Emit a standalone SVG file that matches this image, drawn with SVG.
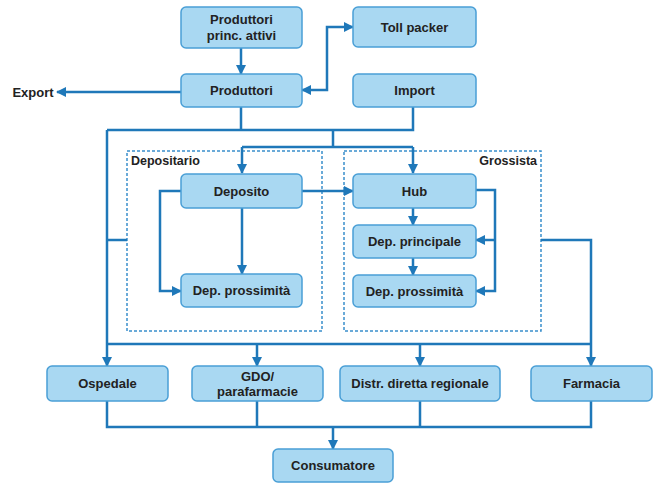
<svg xmlns="http://www.w3.org/2000/svg" width="654" height="483" viewBox="0 0 654 483">
<style>
.box{fill:#a9d8f2;stroke:#4a9fd6;stroke-width:1.5}
.t{font-family:"Liberation Sans",Arial,sans-serif;font-weight:bold;font-size:13px;fill:#222;text-anchor:middle}
.lbl{font-family:"Liberation Sans",Arial,sans-serif;font-weight:bold;font-size:12.5px;fill:#222}
.ln{fill:none;stroke:#1f78b9;stroke-width:2.5}
.dash{fill:none;stroke:#3a8fcc;stroke-width:1.5;stroke-dasharray:3,2}
</style>
<defs>
<marker id="ah" viewBox="0 0 10 10" refX="9" refY="5" markerWidth="4" markerHeight="4" orient="auto-start-reverse">
<path d="M0,0 L10,5 L0,10 z" fill="#1f78b9"/>
</marker>
</defs>
<rect width="654" height="483" fill="#fff"/>
<g id="depositario"><rect class="dash" x="127" y="151" width="195" height="180"/><text class="lbl" x="131" y="165">Depositario</text></g>
<g id="grossista"><rect class="dash" x="344" y="151" width="197" height="180"/><text class="lbl" x="537" y="165" text-anchor="end">Grossista</text></g>
<g id="connectors">
<path class="ln" d="M241,48 V74" marker-end="url(#ah)"/>
<path class="ln" d="M181,92 H57" marker-end="url(#ah)"/>
<path class="ln" d="M302,90 H327 V27 H353" marker-start="url(#ah)" marker-end="url(#ah)"/>
<path class="ln" d="M241,107 V130 M107,130 H413 V107"/>
<path class="ln" d="M333,130 V147 M242,147 H413"/>
<path class="ln" d="M242,147 V173" marker-end="url(#ah)"/>
<path class="ln" d="M413,147 V173" marker-end="url(#ah)"/>
<path class="ln" d="M242,208 V274" marker-end="url(#ah)"/>
<path class="ln" d="M181,191 H160 V291 H181" marker-end="url(#ah)"/>
<path class="ln" d="M302,191 H353" marker-end="url(#ah)"/>
<path class="ln" d="M413,208 V225" marker-end="url(#ah)"/>
<path class="ln" d="M413,258 V275" marker-end="url(#ah)"/>
<path class="ln" d="M476,190 H495 V291 H476" marker-end="url(#ah)"/>
<path class="ln" d="M495,240 H476" marker-end="url(#ah)"/>
<path class="ln" d="M107,130 V366" marker-end="url(#ah)"/>
<path class="ln" d="M107,240 H127"/>
<path class="ln" d="M541,240 H591 V366" marker-end="url(#ah)"/>
<path class="ln" d="M107,344 H591"/>
<path class="ln" d="M257,344 V366" marker-end="url(#ah)"/>
<path class="ln" d="M420,344 V366" marker-end="url(#ah)"/>
<path class="ln" d="M107,401 V427 H591 V401 M257,401 V427 M420,401 V427"/>
<path class="ln" d="M333,427 V449" marker-end="url(#ah)"/>
</g>
<g id="produttori_pa"><rect class="box" x="181" y="7" width="121" height="41" rx="5"/><text class="t" x="241.5" y="24">Produttori</text><text class="t" x="241.5" y="40">princ. attivi</text></g>
<g id="toll_packer"><rect class="box" x="353" y="7" width="123" height="40" rx="5"/><text class="t" x="414.5" y="32">Toll packer</text></g>
<g id="produttori"><rect class="box" x="181" y="74" width="121" height="33" rx="5"/><text class="t" x="241.5" y="95">Produttori</text></g>
<g id="import"><rect class="box" x="353" y="74" width="123" height="33" rx="5"/><text class="t" x="414.5" y="95">Import</text></g>
<g id="export"><text class="t" x="33" y="97">Export</text></g>
<g id="deposito"><rect class="box" x="181" y="174" width="121" height="34" rx="5"/><text class="t" x="241.5" y="196">Deposito</text></g>
<g id="dep_prox_1"><rect class="box" x="181" y="274" width="121" height="33" rx="5"/><text class="t" x="241.5" y="295">Dep. prossimità</text></g>
<g id="hub"><rect class="box" x="353" y="174" width="123" height="34" rx="5"/><text class="t" x="414.5" y="196">Hub</text></g>
<g id="dep_principale"><rect class="box" x="353" y="225" width="123" height="33" rx="5"/><text class="t" x="414.5" y="246">Dep. principale</text></g>
<g id="dep_prox_2"><rect class="box" x="353" y="275" width="123" height="32" rx="5"/><text class="t" x="414.5" y="296">Dep. prossimità</text></g>
<g id="ospedale"><rect class="box" x="47" y="366" width="121" height="35" rx="5"/><text class="t" x="107.5" y="388">Ospedale</text></g>
<g id="gdo"><rect class="box" x="192" y="366" width="131" height="35" rx="5"/><text class="t" x="257.5" y="381">GDO/</text><text class="t" x="257.5" y="396">parafarmacie</text></g>
<g id="distr"><rect class="box" x="340" y="366" width="160" height="35" rx="5"/><text class="t" x="420" y="388">Distr. diretta regionale</text></g>
<g id="farmacia"><rect class="box" x="531" y="366" width="121" height="35" rx="5"/><text class="t" x="591.5" y="388">Farmacia</text></g>
<g id="consumatore"><rect class="box" x="273" y="449" width="120" height="33" rx="5"/><text class="t" x="333" y="470">Consumatore</text></g>
</svg>
